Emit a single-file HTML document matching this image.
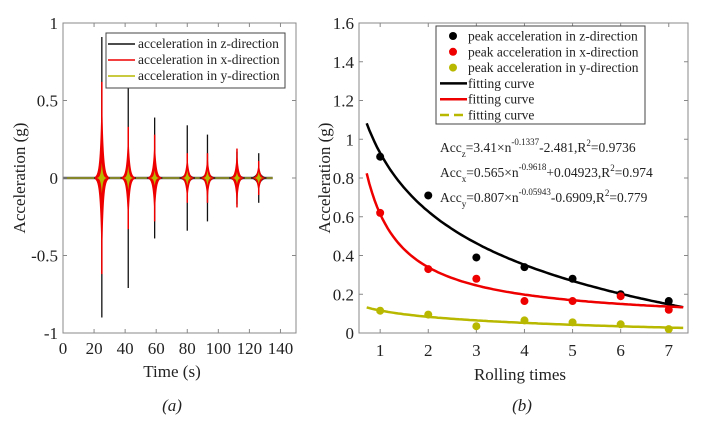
<!DOCTYPE html>
<html><head><meta charset="utf-8"><style>
body{margin:0;background:#fff;}
svg{display:block;}
svg text{font-family:"Liberation Serif","DejaVu Serif",serif;}
</style></head><body>
<svg id="c" width="715" height="424" viewBox="0 0 715 424"></svg>
<script>
// Panel (a) data
const burstTimes=[25,42,59,80,93,112,126];
const zPeaksPos=[0.91,0.72,0.39,0.34,0.28,0.17,0.16];
const zPeaksNeg=[-0.90,-0.71,-0.39,-0.34,-0.28,-0.17,-0.16];
const xPeaks=[0.62,0.33,0.28,0.16,0.16,0.19,0.11];
const yPeaks=[0.10,0.08,0.05,0.05,0.05,0.04,0.04];
const aXTicks=[0,20,40,60,80,100,120,140];
const aYTicks=[-1,-0.5,0,0.5,1];
const aYTickLabels=["-1","-0.5","0","0.5","1"];
// Panel (b) data
const rolls=[1,2,3,4,5,6,7];
const peakZ=[0.91,0.71,0.39,0.34,0.28,0.20,0.165];
const peakX=[0.62,0.33,0.28,0.165,0.165,0.19,0.12];
const peakY=[0.115,0.095,0.035,0.065,0.055,0.045,0.02];
const fitZ=[3.41,-0.1337,-2.481];
const fitX=[0.565,-0.9618,0.04923];
const fitY=[0.807,-0.05943,-0.6909];
const bXTicks=[1,2,3,4,5,6,7];
const bYTicks=[0,0.2,0.4,0.6,0.8,1,1.2,1.4,1.6];
const bYTickLabels=["0","0.2","0.4","0.6","0.8","1","1.2","1.4","1.6"];

const NS="http://www.w3.org/2000/svg";
const svg=document.getElementById('c');
function el(tag,attrs,parent){const e=document.createElementNS(NS,tag);for(const k in attrs)e.setAttribute(k,attrs[k]);(parent||svg).appendChild(e);return e;}
function txt(s,x,y,attrs,parent){const t=el('text',Object.assign({x:x,y:y,'font-size':17,fill:'#222','font-family':'Liberation Serif, serif'},attrs||{}),parent);t.textContent=s;return t;}

// ---- panel a
const A={l:63,r:296,t:23,b:333,x0:0,x1:150,y0:-1,y1:1};
const ax=v=>A.l+(v-A.x0)/(A.x1-A.x0)*(A.r-A.l);
const ay=v=>A.b-(v-A.y0)/(A.y1-A.y0)*(A.b-A.t);
const ga=el('g',{});


let nb=el('rect',{x:ax(0),y:ay(0.008),width:ax(135)-ax(0),height:ay(-0.008)-ay(0.008),fill:'#555'},ga);


el('line',{x1:ax(0),x2:ax(135),y1:ay(0),y2:ay(0),stroke:'#b5b800','stroke-width':1},ga);
function envelope(t0,amp,w,decay,color,name){
  let pts=[];
  for(let i=-40;i<=40;i++){const dt=i/40*w;const a=amp*Math.exp(-Math.abs(dt)/decay);pts.push([ax(t0+dt),ay(a)]);}
  for(let i=40;i>=-40;i--){const dt=i/40*w;const a=amp*Math.exp(-Math.abs(dt)/decay);pts.push([ax(t0+dt),ay(-a)]);}
  const p=el('polygon',{points:pts.map(q=>q.join(',')).join(' '),fill:color},ga);
  
  
}
burstTimes.forEach((t,i)=>{
  envelope(t,0.06,5,1.8,'#222','z-burst');
  const z=el('line',{x1:ax(t),x2:ax(t),y1:ay(zPeaksPos[i]),y2:ay(zPeaksNeg[i]),stroke:'#111','stroke-width':1.3},ga);
  
  
  envelope(t,xPeaks[i],4.5,1.0,'#e00','x-burst');
  const xl=el('line',{x1:ax(t),x2:ax(t),y1:ay(xPeaks[i]),y2:ay(-xPeaks[i]),stroke:'#e00','stroke-width':1.5},ga);
  
  
  envelope(t,yPeaks[i],3,0.7,'#b8b800','y-burst');
});
el('rect',{x:A.l,y:A.t,width:A.r-A.l,height:A.b-A.t,fill:'none',stroke:'#888','stroke-width':1},ga);
aXTicks.forEach(v=>{
  el('line',{x1:ax(v),x2:ax(v),y1:A.b,y2:A.b-4,stroke:'#888'},ga);
  el('line',{x1:ax(v),x2:ax(v),y1:A.t,y2:A.t+4,stroke:'#888'},ga);
  const t=txt(String(v),ax(v),354,{'text-anchor':'middle'},ga);
  
  
});
aYTicks.forEach((v,i)=>{
  el('line',{x1:A.l,x2:A.l+4,y1:ay(v),y2:ay(v),stroke:'#888'},ga);
  el('line',{x1:A.r,x2:A.r-4,y1:ay(v),y2:ay(v),stroke:'#888'},ga);
  const t=txt(aYTickLabels[i],A.l-5,ay(v)+6,{'text-anchor':'end'},ga);
  
  
});
let t1=txt('Time (s)',172,377,{'text-anchor':'middle'},ga);


let t2=txt('Acceleration (g)',0,0,{'text-anchor':'middle',transform:'translate(25,178) rotate(-90)'},ga);


let t3=txt('(a)',172,411,{'text-anchor':'middle','font-style':'italic'},ga);


const la=el('g',{},ga);


el('rect',{x:106,y:33,width:179,height:55,fill:'#fff',stroke:'#444'},la);
[['acceleration in z-direction','#111'],['acceleration in x-direction','#e00'],['acceleration in y-direction','#b8b800']].forEach((e,i)=>{
  const y=44+i*16;
  el('line',{x1:108,x2:135,y1:y,y2:y,stroke:e[1],'stroke-width':1.5},la);
  const t=txt(e[0],138,y+4,{'font-size':13.5},la);
  
  
});

// ---- panel b
const B={l:359,r:688,t:23,b:333,x0:0.56,x1:7.4,y0:0,y1:1.6};
const bx=v=>B.l+(v-B.x0)/(B.x1-B.x0)*(B.r-B.l);
const by=v=>B.b-(v-B.y0)/(B.y1-B.y0)*(B.b-B.t);
const gb=el('g',{});


el('rect',{x:B.l,y:B.t,width:B.r-B.l,height:B.b-B.t,fill:'#fff',stroke:'#888'},gb);
bXTicks.forEach(v=>{
  el('line',{x1:bx(v),x2:bx(v),y1:B.b,y2:B.b-4,stroke:'#888'},gb);
  el('line',{x1:bx(v),x2:bx(v),y1:B.t,y2:B.t+4,stroke:'#888'},gb);
  const t=txt(String(v),bx(v),356,{'text-anchor':'middle'},gb);
  
  
});
bYTicks.forEach((v,i)=>{
  el('line',{x1:B.l,x2:B.l+4,y1:by(v),y2:by(v),stroke:'#888'},gb);
  el('line',{x1:B.r,x2:B.r-4,y1:by(v),y2:by(v),stroke:'#888'},gb);
  const t=txt(bYTickLabels[i],B.l-5,by(v)+6,{'text-anchor':'end'},gb);
  
  
});
function fitPath(p,color,name){
  let d='';
  for(let i=0;i<=120;i++){const n=0.72+i/120*(7.3-0.72);const v=p[0]*Math.pow(n,p[1])+p[2];d+=(i?'L':'M')+bx(n).toFixed(1)+','+by(v).toFixed(1);}
  const e=el('path',{d:d,fill:'none',stroke:color,'stroke-width':2.5},gb);
  
  
}
fitPath(fitZ,'#000','fit-curve-z');
fitPath(fitX,'#e00','fit-curve-x');
fitPath(fitY,'#b8b800','fit-curve-y');
function pts(vals,color,name){
  vals.forEach((v,i)=>{
    const c=el('circle',{cx:bx(rolls[i]),cy:by(v),r:4,fill:color},gb);
    
    
  });
}
pts(peakZ,'#000','point-z');
pts(peakX,'#e00','point-x');
pts(peakY,'#b8b800','point-y');
const lb=el('g',{},gb);


el('rect',{x:436,y:26,width:209,height:98,fill:'#fff',stroke:'#444'},lb);
[['peak acceleration in z-direction','#000','dot'],['peak acceleration in x-direction','#e00','dot'],['peak acceleration in y-direction','#b8b800','dot'],['fitting curve','#000','line'],['fitting curve','#e00','line'],['fitting curve','#b8b800','dash']].forEach((e,i)=>{
  const y=36+i*15.8;
  if(e[2]==='dot')el('circle',{cx:453,cy:y,r:4,fill:e[1]},lb);
  else el('line',{x1:440,x2:467,y1:y,y2:y,stroke:e[1],'stroke-width':2.5,'stroke-dasharray':e[2]==='dash'?'9,5':'none'},lb);
  const t=txt(e[0],468,y+4.5,{'font-size':13.5},lb);
  
  
});
const eqs=[['z','3.41×n','-0.1337','-2.481,R','2','=0.9736'],['x','0.565×n','-0.9618','+0.04923,R','2','=0.974'],['y','0.807×n','-0.05943','-0.6909,R','2','=0.779']];
eqs.forEach((q,i)=>{
  const y=152+i*25;
  const t=el('text',{x:440,y:y,'font-size':13.5,fill:'#222','font-family':'Liberation Serif, serif'},gb);
  
  
  const parts=[['Acc',0,13.5],[q[0],5,9],['='+q[1],-5,13.5],[q[2],-7,9],[q[3],7,13.5],[q[4],-6,9],[q[5],6,13.5]];
  parts.forEach(p=>{const s=document.createElementNS(NS,'tspan');s.setAttribute('dy',p[1]);s.setAttribute('font-size',p[2]);s.textContent=p[0];t.appendChild(s);});
});
let t4=txt('Rolling times',520,380,{'text-anchor':'middle'},gb);


let t5=txt('Acceleration (g)',0,0,{'text-anchor':'middle',transform:'translate(330,178) rotate(-90)'},gb);


let t6=txt('(b)',522,411,{'text-anchor':'middle','font-style':'italic'},gb);


</script>
</body></html>
